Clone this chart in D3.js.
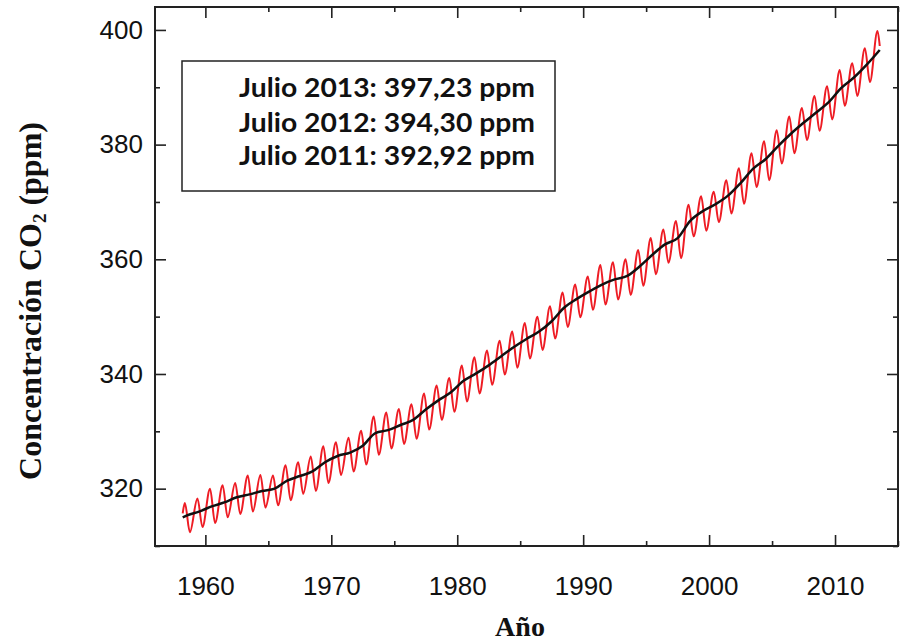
<!DOCTYPE html>
<html>
<head>
<meta charset="utf-8">
<script src="https://cdnjs.cloudflare.com/ajax/libs/d3/7.8.5/d3.min.js"></script>
<style>
body { margin: 0; background: #fff; }
</style>
</head>
<body>
<script>
///////////////////////////////// datos /////////////////////////////////
// Mauna Loa (ppm)
var years = [1958, 1959, 1960, 1961, 1962, 1963, 1964, 1965, 1966, 1967,
             1968, 1969, 1970, 1971, 1972, 1973, 1974, 1975, 1976, 1977,
             1978, 1979, 1980, 1981, 1982, 1983, 1984, 1985, 1986, 1987,
             1988, 1989, 1990, 1991, 1992, 1993, 1994, 1995, 1996, 1997,
             1998, 1999, 2000, 2001, 2002, 2003, 2004, 2005, 2006, 2007,
             2008, 2009, 2010, 2011, 2012, 2013];

// maximo de primavera (mayo) de cada año
var mayPeak = [317.5, 318.3, 320.0, 320.6, 321.0, 322.3, 322.4, 322.3, 324.1, 324.6,
               325.6, 327.4, 328.1, 328.9, 330.1, 332.6, 333.3, 333.9, 334.7, 336.6,
               338.0, 339.3, 341.5, 342.9, 344.1, 345.8, 347.4, 348.9, 350.0, 351.8,
               354.2, 355.6, 357.0, 359.0, 359.5, 360.0, 361.6, 363.7, 365.2, 366.7,
               369.5, 371.0, 371.8, 373.8, 375.9, 378.5, 380.6, 382.5, 384.9, 386.4,
               388.5, 390.2, 393.0, 394.2, 396.8, 399.8];

// minimo de otoño (octubre), 1958-2012
var octLow = [312.4, 313.3, 314.0, 315.0, 315.6, 316.0, 316.7, 317.1, 318.0, 319.1,
              319.6, 321.0, 322.4, 323.0, 324.2, 325.9, 327.0, 327.8, 328.7, 330.3,
              332.0, 333.4, 335.2, 336.6, 338.1, 339.9, 341.1, 342.7, 344.2, 346.2,
              348.2, 349.9, 351.2, 352.1, 353.0, 353.8, 355.4, 357.4, 359.4, 360.2,
              364.0, 365.0, 366.5, 368.0, 369.7, 372.6, 373.8, 376.7, 378.5, 380.8,
              382.4, 384.4, 386.8, 388.5, 390.9];

// media anual (linea negra)
var annualMean = [315.3, 316.0, 316.9, 317.6, 318.5, 319.0, 319.6, 320.0, 321.4, 322.2,
                  323.0, 324.6, 325.7, 326.3, 327.5, 329.7, 330.2, 331.1, 332.0, 333.8,
                  335.4, 336.8, 338.8, 340.1, 341.5, 343.1, 344.7, 346.1, 347.4, 349.2,
                  351.6, 353.1, 354.4, 355.6, 356.5, 357.1, 358.8, 360.8, 362.6, 363.7,
                  366.7, 368.4, 369.6, 371.1, 373.3, 375.8, 377.5, 379.8, 381.9, 383.8,
                  385.6, 387.4, 389.9, 391.7, 393.9, 396.5];

// primer y ultimo dato mensual (marzo 1958, julio 2013)
var firstMonth = [1958.2, 315.7];
var lastMonth = [2013.55, 397.2];
var trendStart = [1958.2, 315.0];

var xMajorTicks = [1960, 1970, 1980, 1990, 2000, 2010];
var xMinorTicks = [1965, 1975, 1985, 1995, 2005, 2015];
var yMajorTicks = [320, 340, 360, 380, 400];
var yMinorTicks = [310, 330, 350, 370, 390];

var legendLines = ["Julio 2013: 397,23 ppm", "Julio 2012: 394,30 ppm", "Julio 2011: 392,92 ppm"];

///////////////////////////////// layout /////////////////////////////////
var margin = {top: 7, right: 4, bottom: 98, left: 155},
    width = 902 - margin.left - margin.right,
    height = 644 - margin.top - margin.bottom;

var svg = d3.select("body")
            .append("svg")
            .attr("width", 902)
            .attr("height", 644)
            .append("g")
            .attr("transform", "translate(" + margin.left + "," + margin.top + ")");

var x = d3.scaleLinear().domain([1956, 2015]).range([0, width]);
var y = d3.scaleLinear().domain([310, 404]).range([height, 0]);

// build the monthly (red) and trend (black) point lists
var seasonal = [firstMonth];
years.forEach(function (yr, i) {
    seasonal.push([yr + 0.37, mayPeak[i]]);
    if (i < octLow.length) seasonal.push([yr + 0.77, octLow[i]]);
});
seasonal.push(lastMonth);

var trend = [trendStart];
years.forEach(function (yr, i) {
    trend.push([yr + 0.5, annualMean[i]]);
});
trend[trend.length - 1][0] = lastMonth[0];

var line = d3.line()
    .x(function (d) { return x(d[0]); })
    .y(function (d) { return y(d[1]); });

svg.append("path")
    .datum(seasonal)
    .attr("fill", "none")
    .attr("stroke", "#ee1c24")
    .attr("stroke-width", 2)
    .attr("d", line.curve(d3.curveMonotoneX));

svg.append("path")
    .datum(trend)
    .attr("fill", "none")
    .attr("stroke", "#111")
    .attr("stroke-width", 2.5)
    .attr("d", line.curve(d3.curveMonotoneX));

//////////////////////////////// axes ////////////////////////////////
function styleAxis(g) {
    g.select(".domain").remove();
    g.selectAll("line").attr("stroke", "#222").attr("stroke-width", 1.6);
    g.selectAll("text")
        .attr("font-family", "'Liberation Sans', Arial, Helvetica, sans-serif")
        .attr("font-size", "26px")
        .attr("fill", "#111");
}

// bottom, labelled
svg.append("g")
    .attr("transform", "translate(0," + height + ")")
    .call(d3.axisBottom(x).tickValues(xMajorTicks).tickSize(-11).tickPadding(31)
        .tickFormat(d3.format("d")))
    .call(styleAxis);
svg.append("g")
    .attr("transform", "translate(0," + height + ")")
    .call(d3.axisBottom(x).tickValues(xMinorTicks).tickSize(-5).tickFormat(""))
    .call(styleAxis);
// top, mirrored
svg.append("g")
    .call(d3.axisTop(x).tickValues(xMajorTicks).tickSize(-11).tickFormat(""))
    .call(styleAxis);
svg.append("g")
    .call(d3.axisTop(x).tickValues(xMinorTicks).tickSize(-5).tickFormat(""))
    .call(styleAxis);

// left, labelled
svg.append("g")
    .call(d3.axisLeft(y).tickValues(yMajorTicks).tickSize(-11).tickPadding(12))
    .call(styleAxis);
svg.append("g")
    .call(d3.axisLeft(y).tickValues(yMinorTicks).tickSize(-5).tickFormat(""))
    .call(styleAxis);
// right, mirrored
svg.append("g")
    .attr("transform", "translate(" + width + ",0)")
    .call(d3.axisRight(y).tickValues(yMajorTicks).tickSize(-11).tickFormat(""))
    .call(styleAxis);
svg.append("g")
    .attr("transform", "translate(" + width + ",0)")
    .call(d3.axisRight(y).tickValues(yMinorTicks).tickSize(-5).tickFormat(""))
    .call(styleAxis);

// frame
svg.append("rect")
    .attr("width", width)
    .attr("height", height)
    .attr("fill", "none")
    .attr("stroke", "#222")
    .attr("stroke-width", 2);

//////////////////////////////// titles ////////////////////////////////
var yTitle = svg.append("text")
    .attr("transform", "translate(" + (41 - margin.left) + "," + (301 - margin.top) + ") rotate(-90)")
    .attr("text-anchor", "middle")
    .attr("font-family", "'Liberation Serif', 'Times New Roman', serif")
    .attr("font-weight", "bold")
    .attr("font-size", "32px")
    .attr("fill", "#111");
yTitle.append("tspan").text("Concentración CO");
yTitle.append("tspan").attr("font-size", "19px").attr("dy", "0.25em").text("2");
yTitle.append("tspan").attr("dy", "-0.15em").text(" (ppm)");

svg.append("text")
    .attr("x", 520 - margin.left)
    .attr("y", 636 - margin.top)
    .attr("text-anchor", "middle")
    .attr("font-family", "'Liberation Serif', 'Times New Roman', serif")
    .attr("font-weight", "bold")
    .attr("font-size", "28px")
    .attr("fill", "#111")
    .text("Año");

//////////////////////////////// legend box ////////////////////////////////
svg.append("rect")
    .attr("x", 182 - margin.left)
    .attr("y", 61 - margin.top)
    .attr("width", 373)
    .attr("height", 130)
    .attr("fill", "#fff")
    .attr("stroke", "#222")
    .attr("stroke-width", 1.5);

var legendBaselines = [97, 132, 165];
legendLines.forEach(function (t, i) {
    svg.append("text")
        .attr("x", 239 - margin.left)
        .attr("y", legendBaselines[i] - margin.top)
        .attr("font-family", "Lato, 'Open Sans', sans-serif")
        .attr("font-weight", "bold")
        .attr("font-size", "27px")
        .attr("textLength", 296)
        .attr("lengthAdjust", "spacingAndGlyphs")
        .attr("fill", "#111")
        .text(t);
});
</script>
</body>
</html>
